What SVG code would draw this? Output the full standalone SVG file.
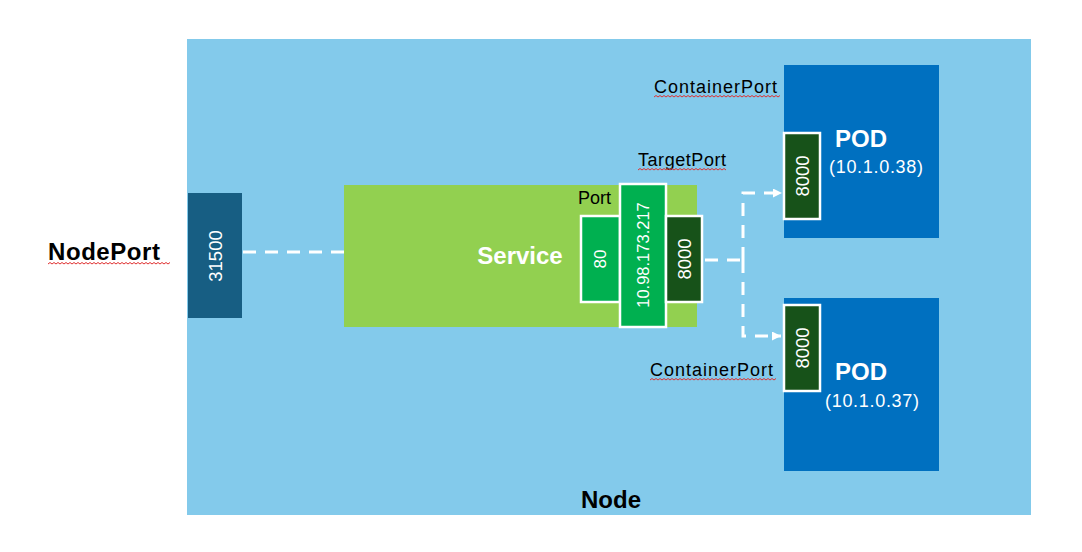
<svg xmlns="http://www.w3.org/2000/svg" width="1082" height="552" viewBox="0 0 1082 552">
<defs>
<style>
.lbl{font-family:"Liberation Sans",Arial,sans-serif;fill:#000}
.bold{font-family:"Liberation Sans",Arial,sans-serif;font-weight:bold}
.w{fill:#fff;font-family:"Liberation Sans",Arial,sans-serif}
.port{stroke:#fff;stroke-width:2.5}
.dash{fill:none;stroke:#fff;stroke-width:3;stroke-dasharray:13 9}
.sq{fill:none;stroke:#e03030;stroke-width:1}
</style>
<marker id="arr" viewBox="0 0 10 10" refX="10" refY="5" markerWidth="3" markerHeight="3" orient="auto" markerUnits="strokeWidth">
<path d="M0,0 L10,5 L0,10 z" fill="#fff"/>
</marker>
</defs>
<rect width="1082" height="552" fill="#fff"/>
<g id="node">
<rect x="187" y="39" width="844" height="476" fill="#83CAEB"/>
<text class="bold" x="611" y="508" font-size="24" text-anchor="middle" fill="#000">Node</text>
</g>
<g id="nodeport-label">
<text class="bold" x="48" y="260" font-size="24" textLength="112" fill="#000">NodePort</text>
<path class="sq" d="M48,264 l2,-1.5 l2,1.5 l2,-1.5 l2,1.5 l2,-1.5 l2,1.5 l2,-1.5 l2,1.5 l2,-1.5 l2,1.5 l2,-1.5 l2,1.5 l2,-1.5 l2,1.5 l2,-1.5 l2,1.5 l2,-1.5 l2,1.5 l2,-1.5 l2,1.5 l2,-1.5 l2,1.5 l2,-1.5 l2,1.5 l2,-1.5 l2,1.5 l2,-1.5 l2,1.5 l2,-1.5 l2,1.5 l2,-1.5 l2,1.5 l2,-1.5 l2,1.5 l2,-1.5 l2,1.5 l2,-1.5 l2,1.5 l2,-1.5 l2,1.5 l2,-1.5 l2,1.5 l2,-1.5 l2,1.5 l2,-1.5 l2,1.5 l2,-1.5 l2,1.5 l2,-1.5 l2,1.5 l2,-1.5 l2,1.5 l2,-1.5 l2,1.5 l2,-1.5 l2,1.5 l2,-1.5 l2,1.5 l2,-1.5 l2,1.5 l2,-1.5"/>
</g>
<g id="nodeport">
<rect x="188" y="193" width="54" height="125" fill="#175E83"/>
<text class="w" font-size="18.5" text-anchor="middle" dominant-baseline="central" transform="rotate(-90 215 256)" x="215" y="256">31500</text>
</g>
<g id="service">
<rect x="344" y="185" width="353" height="142" fill="#92D050"/>
<text class="bold" x="520" y="264" font-size="24" text-anchor="middle" fill="#fff">Service</text>
<text class="lbl" x="578" y="204" font-size="18">Port</text>
</g>
<g id="port80">
<rect class="port" x="581" y="216" width="39" height="86" fill="#00B050"/>
<text class="w" font-size="17" text-anchor="middle" dominant-baseline="central" transform="rotate(-90 600 259)" x="600" y="259">80</text>
</g>
<g id="clusterip">
<rect class="port" x="620" y="184" width="46" height="143" fill="#00B050"/>
<text class="w" font-size="16.5" text-anchor="middle" dominant-baseline="central" transform="rotate(-90 643 255)" x="643" y="255">10.98.173.217</text>
</g>
<g id="targetport">
<rect class="port" x="666" y="216" width="36" height="86" fill="#175219"/>
<text class="w" font-size="18.5" text-anchor="middle" dominant-baseline="central" transform="rotate(-90 684 259)" x="684" y="259">8000</text>
<text class="lbl" x="638" y="166" font-size="18" textLength="88">TargetPort</text>
<path class="sq" d="M638,170 l2,-1.5 l2,1.5 l2,-1.5 l2,1.5 l2,-1.5 l2,1.5 l2,-1.5 l2,1.5 l2,-1.5 l2,1.5 l2,-1.5 l2,1.5 l2,-1.5 l2,1.5 l2,-1.5 l2,1.5 l2,-1.5 l2,1.5 l2,-1.5 l2,1.5 l2,-1.5 l2,1.5 l2,-1.5 l2,1.5 l2,-1.5 l2,1.5 l2,-1.5 l2,1.5 l2,-1.5 l2,1.5 l2,-1.5 l2,1.5 l2,-1.5 l2,1.5 l2,-1.5 l2,1.5 l2,-1.5 l2,1.5 l2,-1.5 l2,1.5 l2,-1.5 l2,1.5 l2,-1.5 l2,1.5"/>
</g>
<g id="pod1">
<rect x="784" y="65" width="155" height="173" fill="#0070C0"/>
<rect class="port" x="784" y="133" width="36" height="86" fill="#175219"/>
<text class="w" font-size="18.5" text-anchor="middle" dominant-baseline="central" transform="rotate(-90 802 176)" x="802" y="176">8000</text>
<text class="bold" x="861" y="147" font-size="24" text-anchor="middle" fill="#fff">POD</text>
<text class="w" x="876" y="173" font-size="18" text-anchor="middle" textLength="94">(10.1.0.38)</text>
<text class="lbl" x="654" y="93" font-size="18" textLength="123">ContainerPort</text>
<path class="sq" d="M654,97 l2,-1.5 l2,1.5 l2,-1.5 l2,1.5 l2,-1.5 l2,1.5 l2,-1.5 l2,1.5 l2,-1.5 l2,1.5 l2,-1.5 l2,1.5 l2,-1.5 l2,1.5 l2,-1.5 l2,1.5 l2,-1.5 l2,1.5 l2,-1.5 l2,1.5 l2,-1.5 l2,1.5 l2,-1.5 l2,1.5 l2,-1.5 l2,1.5 l2,-1.5 l2,1.5 l2,-1.5 l2,1.5 l2,-1.5 l2,1.5 l2,-1.5 l2,1.5 l2,-1.5 l2,1.5 l2,-1.5 l2,1.5 l2,-1.5 l2,1.5 l2,-1.5 l2,1.5 l2,-1.5 l2,1.5 l2,-1.5 l2,1.5 l2,-1.5 l2,1.5 l2,-1.5 l2,1.5 l2,-1.5 l2,1.5 l2,-1.5 l2,1.5 l2,-1.5 l2,1.5 l2,-1.5 l2,1.5 l2,-1.5 l2,1.5 l2,-1.5 l2,1.5 l2,-1.5"/>
</g>
<g id="pod2">
<rect x="784" y="298" width="155" height="173" fill="#0070C0"/>
<rect class="port" x="784" y="305" width="36" height="86" fill="#175219"/>
<text class="w" font-size="18.5" text-anchor="middle" dominant-baseline="central" transform="rotate(-90 802 348)" x="802" y="348">8000</text>
<text class="bold" x="861" y="380" font-size="24" text-anchor="middle" fill="#fff">POD</text>
<text class="w" x="872" y="407" font-size="18" text-anchor="middle" textLength="94">(10.1.0.37)</text>
<text class="lbl" x="650" y="376" font-size="18" textLength="123">ContainerPort</text>
<path class="sq" d="M650,380 l2,-1.5 l2,1.5 l2,-1.5 l2,1.5 l2,-1.5 l2,1.5 l2,-1.5 l2,1.5 l2,-1.5 l2,1.5 l2,-1.5 l2,1.5 l2,-1.5 l2,1.5 l2,-1.5 l2,1.5 l2,-1.5 l2,1.5 l2,-1.5 l2,1.5 l2,-1.5 l2,1.5 l2,-1.5 l2,1.5 l2,-1.5 l2,1.5 l2,-1.5 l2,1.5 l2,-1.5 l2,1.5 l2,-1.5 l2,1.5 l2,-1.5 l2,1.5 l2,-1.5 l2,1.5 l2,-1.5 l2,1.5 l2,-1.5 l2,1.5 l2,-1.5 l2,1.5 l2,-1.5 l2,1.5 l2,-1.5 l2,1.5 l2,-1.5 l2,1.5 l2,-1.5 l2,1.5 l2,-1.5 l2,1.5 l2,-1.5 l2,1.5 l2,-1.5 l2,1.5 l2,-1.5 l2,1.5 l2,-1.5 l2,1.5 l2,-1.5 l2,1.5 l2,-1.5"/>
</g>
<g id="connectors">
<path class="dash" d="M243,252 H344"/>
<path class="dash" d="M705,260 H743"/>
<path class="dash" d="M743,260 V193 H782" marker-end="url(#arr)"/>
<path class="dash" d="M743,260 V336 H781" marker-end="url(#arr)"/>
</g>
</svg>
